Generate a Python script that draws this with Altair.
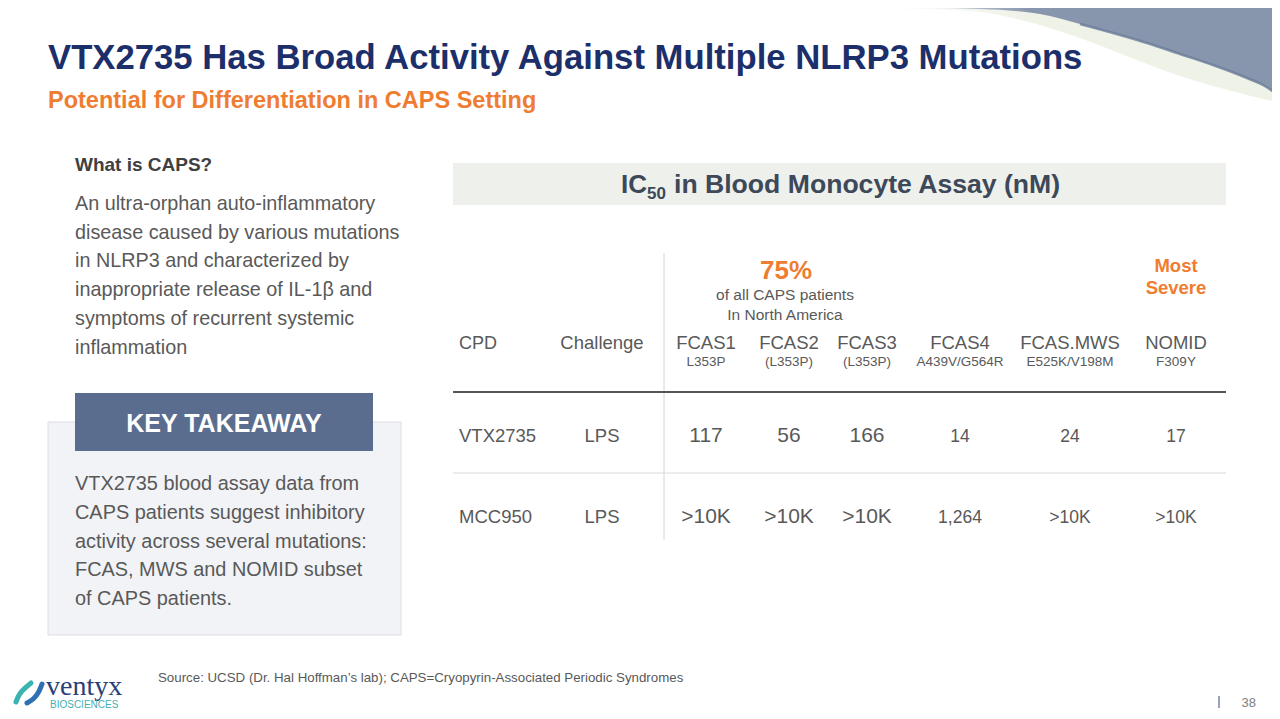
import altair as alt
import pandas as pd

# ------------------------------------------------------------------ data
title = "VTX2735 Has Broad Activity Against Multiple NLRP3 Mutations"
subtitle = "Potential for Differentiation in CAPS Setting"
caps_heading = "What is CAPS?"
caps_lines = [
    "An ultra-orphan auto-inflammatory",
    "disease caused by various mutations",
    "in NLRP3 and characterized by",
    "inappropriate release of IL-1β and",
    "symptoms of recurrent systemic",
    "inflammation",
]
takeaway_heading = "KEY TAKEAWAY"
takeaway_lines = [
    "VTX2735 blood assay data from",
    "CAPS patients suggest inhibitory",
    "activity across several mutations:",
    "FCAS, MWS and NOMID subset",
    "of CAPS patients.",
]
table_title_main = "IC"
table_title_sub = "50"
table_title_rest = "in Blood Monocyte Assay (nM)"
columns = ["CPD", "Challenge", "FCAS1", "FCAS2", "FCAS3", "FCAS4", "FCAS.MWS", "NOMID"]
mutations = ["", "", "L353P", "(L353P)", "(L353P)", "A439V/G564R", "E525K/V198M", "F309Y"]
compounds = ["VTX2735", "MCC950"]
challenges = ["LPS", "LPS"]
vtx2735_ic50 = ["117", "56", "166", "14", "24", "17"]
mcc950_ic50 = [">10K", ">10K", ">10K", "1,264", ">10K", ">10K"]
share_value = "75%"
share_note = ["of all CAPS patients", "In North America"]
severe_note = ["Most", "Severe"]
source_note = "Source: UCSD (Dr. Hal Hoffman\u2019s lab); CAPS=Cryopyrin-Associated Periodic Syndromes"
brand = "ventyx"
brand_sub = "BIOSCIENCES"
page_number = "38"

# decorative swoosh outlines (top right corner)
swoosh_x = [860, 930, 980, 1040, 1080, 1147, 1180, 1213, 1247, 1263, 1285]
swoosh_dark_edge = [8, 8, 9, 14, 24, 43, 54, 65, 78, 85, 100]
swoosh_pale_edge = [8, 9, 12, 25, 38, 64, 76, 86, 95, 99, 104]
# logo mark strokes
logo_a_x = [16, 19, 25, 31]
logo_a_y = [702, 694, 688, 683]
logo_b_x = [27, 34, 39, 42]
logo_b_y = [703, 699, 692, 684]

# ------------------------------------------------------------------ layout
W, H = 1264, 703
X0, Y0 = 8, 8
xs = alt.Scale(domain=[X0, X0 + W], nice=False, zero=False)
ys = alt.Scale(domain=[Y0, Y0 + H], nice=False, zero=False, reverse=True)
FONT = "Liberation Sans"

NAVY = "#1c2f6b"
ORANGE = "#ef7d31"
GRAY = "#595959"
DARK = "#404040"


def X(f="x"):
    return alt.X(f"{f}:Q", scale=xs, axis=None)


def Y(f="y"):
    return alt.Y(f"{f}:Q", scale=ys, axis=None)


def txt(rows, **style):
    df = pd.DataFrame(rows, columns=["x", "y", "text"])
    style.setdefault("font", FONT)
    style.setdefault("baseline", "alphabetic")
    return alt.Chart(df).mark_text(**style).encode(x=X(), y=Y(), text="text:N")


def rect(rows, **style):
    df = pd.DataFrame(rows, columns=["x", "x2", "y", "y2"])
    return alt.Chart(df).mark_rect(**style).encode(x=X(), x2="x2:Q", y=Y(), y2="y2:Q")


def hrule(rows, **style):
    df = pd.DataFrame(rows, columns=["x", "x2", "y"])
    return alt.Chart(df).mark_rule(**style).encode(x=X(), x2="x2:Q", y=Y())


def vrule(rows, **style):
    df = pd.DataFrame(rows, columns=["x", "y", "y2"])
    return alt.Chart(df).mark_rule(**style).encode(x=X(), y=Y(), y2="y2:Q")


layers = []

# swoosh: dark band from the top edge down to the dark edge, pale band below it
sw = pd.DataFrame({"x": swoosh_x, "dark": swoosh_dark_edge, "pale": swoosh_pale_edge,
                   "top": [Y0] * len(swoosh_x)})
layers.append(
    alt.Chart(sw).mark_area(interpolate="monotone", opacity=1, color="#eef2e7")
    .encode(x=X(), y=Y("pale"), y2="top:Q")
)
layers.append(
    alt.Chart(sw).mark_area(interpolate="monotone", opacity=1, color="#8896ad")
    .encode(x=X(), y=Y("dark"), y2="top:Q")
)
# soft fade of both bands on their left end
fade = pd.DataFrame({"x": [840, 1030], "y": [8, 8], "y2": [28, 28]})
layers.append(
    alt.Chart(fade).mark_rect(
        color=alt.Gradient(gradient="linear", x1=0, x2=1, y1=0, y2=0,
                           stops=[alt.GradientStop(color="rgba(255,255,255,1)", offset=0),
                                  alt.GradientStop(color="rgba(255,255,255,0.65)", offset=0.45),
                                  alt.GradientStop(color="rgba(255,255,255,0)", offset=1)])
    ).encode(x=alt.X("min(x):Q", scale=xs, axis=None), x2="max(x):Q",
             y=alt.Y("min(y):Q", scale=ys, axis=None), y2="max(y2):Q")
)
layers.append(
    alt.Chart(sw[sw["x"] >= 1080]).mark_line(
        interpolate="monotone", color="#6a7b98", strokeWidth=2.5, opacity=0.8
    ).encode(x=X(), y=Y("dark"))
)

# title / subtitle
layers.append(txt([(48, 69, title)], fontSize=34.7, fontWeight="bold", color=NAVY, align="left"))
layers.append(txt([(48, 108, subtitle)], fontSize=23.5, fontWeight="bold", color=ORANGE, align="left"))

# What is CAPS
layers.append(txt([(75, 171, caps_heading)], fontSize=19, fontWeight="bold", color=DARK, align="left"))
layers.append(txt([(75, 210 + 28.7 * i, s) for i, s in enumerate(caps_lines)],
                  fontSize=19.8, color=GRAY, align="left"))

# key takeaway box
layers.append(rect([(48, 401, 422, 635)], fill="#f2f3f6", stroke="#dcdee3", strokeWidth=1))
layers.append(rect([(75, 373, 393, 451)], fill="#5a6d8f"))
layers.append(txt([(224, 432, takeaway_heading)], fontSize=25, fontWeight="bold", color="white", align="center"))
layers.append(txt([(75, 490 + 28.75 * i, s) for i, s in enumerate(takeaway_lines)],
                  fontSize=19.9, color=GRAY, align="left"))

# table title band
layers.append(rect([(453, 1226, 163, 205)], fill="#eef0ec"))
layers.append(txt([(621, 193, table_title_main)], fontSize=26, fontWeight="bold", color="#3d4859", align="left"))
layers.append(txt([(647, 199, table_title_sub)], fontSize=17, fontWeight="bold", color="#3d4859", align="left"))
layers.append(txt([(674, 193, table_title_rest)], fontSize=26.6, fontWeight="bold", color="#3d4859", align="left"))

# table structure
col_x = [459, 602, 706, 789, 867, 960, 1070, 1176]
layers.append(vrule([(664, 253, 540)], color="#d6d6d6", strokeWidth=1))
layers.append(hrule([(453, 1226, 392)], color="#555555", strokeWidth=2))
layers.append(hrule([(453, 1226, 473)], color="#dadada", strokeWidth=1))

# header callouts
layers.append(txt([(786, 279, share_value)], fontSize=26, fontWeight="bold", color=ORANGE, align="center"))
layers.append(txt([(785, 300 + 19.5 * i, s) for i, s in enumerate(share_note)],
                  fontSize=15.5, color=GRAY, align="center"))
layers.append(txt([(1176, 272 + 22 * i, s) for i, s in enumerate(severe_note)],
                  fontSize=18.5, fontWeight="bold", color=ORANGE, align="center"))

# header row
layers.append(txt([(col_x[0], 349, columns[0])], fontSize=18, color=GRAY, align="left"))
layers.append(txt([(col_x[i], 349, columns[i]) for i in range(1, len(columns))],
                  fontSize=18.5, color=GRAY, align="center"))
layers.append(txt([(col_x[i], 366, mutations[i]) for i in range(2, len(columns))],
                  fontSize=13.5, color=GRAY, align="center"))

# body rows
row_y = [442, 523]
for r, (cpd, ch, vals) in enumerate(zip(compounds, challenges, [vtx2735_ic50, mcc950_ic50])):
    layers.append(txt([(col_x[0], row_y[r], cpd)], fontSize=18.5, color=GRAY, align="left"))
    layers.append(txt([(col_x[1], row_y[r], ch)], fontSize=18.5, color=GRAY, align="center"))
    layers.append(txt([(col_x[2 + j], row_y[r], vals[j]) for j in range(3)],
                      fontSize=21, color=GRAY, align="center"))
    layers.append(txt([(col_x[2 + j], row_y[r], vals[j]) for j in range(3, 6)],
                      fontSize=17.5, color=GRAY, align="center"))

# footer
layers.append(txt([(158, 682, source_note)], fontSize=13.3, color=GRAY, align="left"))
layers.append(txt([(46, 695, brand)], font="Liberation Serif", fontSize=28, color="#2a3f77", align="left"))
layers.append(txt([(50, 708, brand_sub)], fontSize=10, color="#3fb0b5", align="left"))
la = pd.DataFrame({"x": logo_a_x, "y": logo_a_y})
lb = pd.DataFrame({"x": logo_b_x, "y": logo_b_y})
layers.append(alt.Chart(la).mark_line(color="#3bb3b0", strokeWidth=5, interpolate="basis",
                                      strokeCap="round").encode(x=X(), y=Y()))
layers.append(alt.Chart(lb).mark_line(color="#2f6fb3", strokeWidth=5, interpolate="basis",
                                      strokeCap="round").encode(x=X(), y=Y()))
layers.append(vrule([(1219, 696, 708)], color="#9aa3bb", strokeWidth=2))
layers.append(txt([(1256, 707, page_number)], fontSize=13, color="#808080", align="right"))

chart = alt.layer(*layers).properties(
    width=W, height=H, padding=0, background="white",
    autosize=alt.AutoSizeParams(type="none"),
).configure_view(strokeWidth=0)

chart.save("out.html", embed_options={"renderer": "svg", "actions": False})
